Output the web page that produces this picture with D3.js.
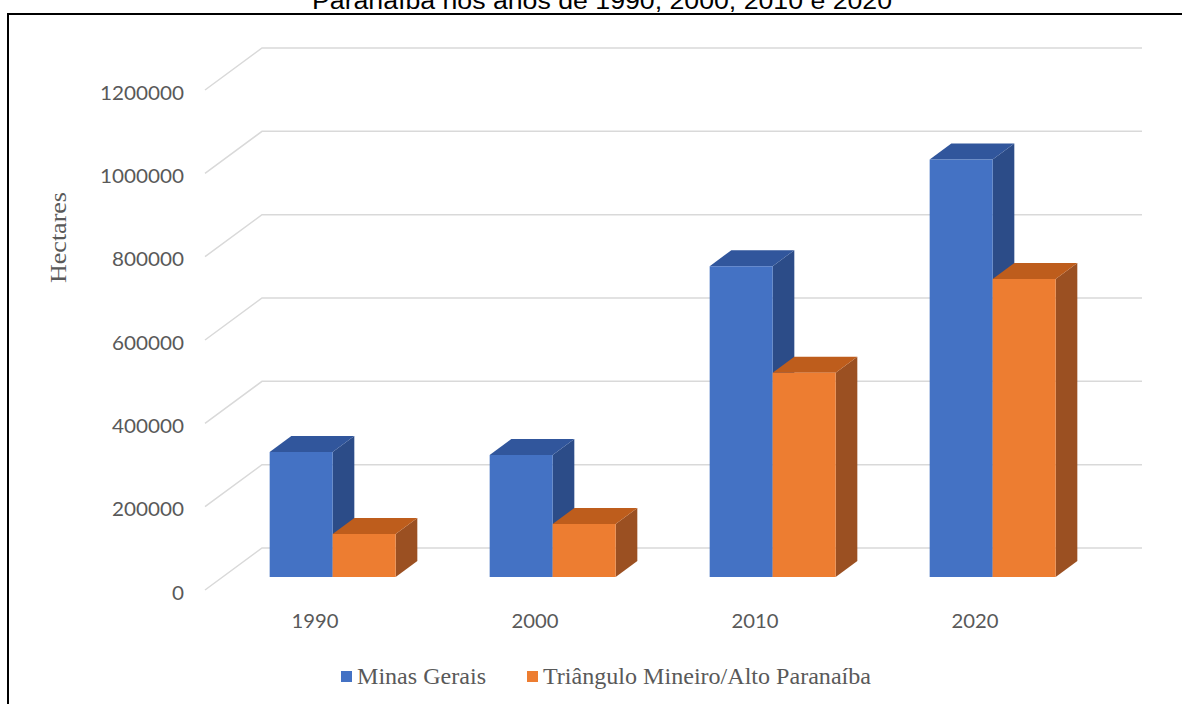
<!DOCTYPE html>
<html>
<head>
<meta charset="utf-8">
<script src="https://cdn.jsdelivr.net/npm/d3@7"></script>
<style>
  html, body { margin: 0; padding: 0; background: #fff; }
  svg { display: block; }
</style>
</head>
<body>
<svg id="chart" width="1182" height="704"></svg>
<script>
// Área (ha) por ano e recorte territorial
const years = ["1990", "2000", "2010", "2020"];
const seriesNames = ["Minas Gerais", "Triângulo Mineiro/Alto Paranaíba"];
const minasGerais = [300000, 293000, 746000, 1002000];
const trianguloAltoParanaiba = [103000, 127000, 490000, 715000];
const yTicks = [0, 200000, 400000, 600000, 800000, 1000000, 1200000];
const titleText = "Paranaíba nos anos de 1990, 2000, 2010 e 2020";
const yAxisTitle = "Hectares";

const seriesValues = [minasGerais, trianguloAltoParanaiba];
const palette = [
  { front: "#4472C4", top: "#31569C", side: "#2C4C88" },
  { front: "#ED7D31", top: "#BE5D1C", side: "#9B5022" }
];

const svg = d3.select("#chart");

// Moldura
svg.append("rect")
  .attr("x", 8).attr("y", 14)
  .attr("width", 1180).attr("height", 700)
  .attr("fill", "none").attr("stroke", "#000").attr("stroke-width", 2);

// Título (segunda linha)
svg.append("text")
  .attr("x", 602).attr("y", 9)
  .attr("text-anchor", "middle")
  .attr("font-family", "Liberation Sans, Arial, sans-serif")
  .attr("font-size", 23)
  .attr("fill", "#000")
  .attr("textLength", 580)
  .attr("lengthAdjust", "spacingAndGlyphs")
  .text(titleText);

// Projeção oblíqua: parede do fundo + deslocamento por profundidade
const depthDX = -57, depthDY = 42;          // da parede do fundo até a borda frontal
const proj = (x, y, d) => [x + depthDX * d, y + depthDY * d];

const y = d3.scaleLinear().domain([0, 1200000]).range([548, 48]);
const x0 = d3.scaleBand().domain(years).range([262, 1142]).padding(0);
const x1 = d3.scaleBand().domain(seriesNames).range([0, x0.bandwidth()])
  .paddingInner(0).paddingOuter(0.746);

const barBack = 0.31, barFront = 0.69;     // faixa de profundidade das colunas

// Grade: parede do fundo e parede lateral
const grid = svg.append("g")
  .attr("stroke", "#D9D9D9").attr("stroke-width", 1.5).attr("fill", "none");
yTicks.forEach(t => {
  const yb = y(t);
  const [fx, fy] = proj(262, yb, 1);
  grid.append("path").attr("d", `M${fx},${fy}L262,${yb}L1142,${yb}`);
});

// Rótulos do eixo de valores (no plano frontal)
svg.append("g")
  .selectAll("text").data(yTicks).join("text")
  .attr("x", 184)
  .attr("y", d => proj(262, y(d), 1)[1] + 3)
  .attr("dy", "0.35em")
  .attr("text-anchor", "end")
  .attr("font-family", "Lato, 'Open Sans', sans-serif")
  .attr("font-size", 19)
  .attr("fill", "#595959")
  .attr("textLength", d => String(d).length * 12)
  .attr("lengthAdjust", "spacingAndGlyphs")
  .text(d => d);

// Título do eixo
svg.append("text")
  .attr("transform", "translate(66,237.5) rotate(-90)")
  .attr("text-anchor", "middle")
  .attr("font-family", "Liberation Serif, 'Times New Roman', serif")
  .attr("font-size", 23)
  .attr("fill", "#595959")
  .attr("textLength", 91)
  .attr("lengthAdjust", "spacingAndGlyphs")
  .text(yAxisTitle);

// Colunas 3D
const bars = svg.append("g");
const pts = arr => arr.map(p => p.join(",")).join(" ");
years.forEach((yr, i) => {
  seriesNames.forEach((s, k) => {
    const v = seriesValues[k][i];
    const xl = x0(yr) + x1(s);
    const xr = xl + x1.bandwidth();
    const yt = y(v), yb = y(0);
    const c = palette[k];
    const g = bars.append("g");
    // face lateral direita
    g.append("polygon").attr("fill", c.side).attr("points", pts([
      proj(xr, yt, barFront), proj(xr, yt, barBack), proj(xr, yb, barBack), proj(xr, yb, barFront)
    ]));
    // topo
    g.append("polygon").attr("fill", c.top).attr("points", pts([
      proj(xl, yt, barFront), proj(xl, yt, barBack), proj(xr, yt, barBack), proj(xr, yt, barFront)
    ]));
    // frente
    g.append("polygon").attr("fill", c.front).attr("points", pts([
      proj(xl, yt, barFront), proj(xr, yt, barFront), proj(xr, yb, barFront), proj(xl, yb, barFront)
    ]));
  });
});

// Rótulos das categorias (borda frontal do piso)
svg.append("g")
  .selectAll("text").data(years).join("text")
  .attr("x", d => proj(x0(d) + x0.bandwidth() / 2, 0, 1)[0])
  .attr("y", 621)
  .attr("dy", "0.35em")
  .attr("text-anchor", "middle")
  .attr("font-family", "Lato, 'Open Sans', sans-serif")
  .attr("font-size", 19)
  .attr("fill", "#595959")
  .attr("textLength", 47)
  .attr("lengthAdjust", "spacingAndGlyphs")
  .text(d => d);

// Legenda
const legendItems = [
  { name: seriesNames[0], color: palette[0].front, sx: 341, tx: 357, w: 129 },
  { name: seriesNames[1], color: palette[1].front, sx: 527, tx: 543, w: 328 }
];
const legend = svg.append("g");
legendItems.forEach(it => {
  legend.append("rect")
    .attr("x", it.sx).attr("y", 671).attr("width", 11).attr("height", 11)
    .attr("fill", it.color);
  legend.append("text")
    .attr("x", it.tx).attr("y", 684)
    .attr("font-family", "Liberation Serif, 'Times New Roman', serif")
    .attr("font-size", 23)
    .attr("fill", "#595959")
    .attr("textLength", it.w)
    .attr("lengthAdjust", "spacingAndGlyphs")
    .text(it.name);
});
</script>
</body>
</html>
